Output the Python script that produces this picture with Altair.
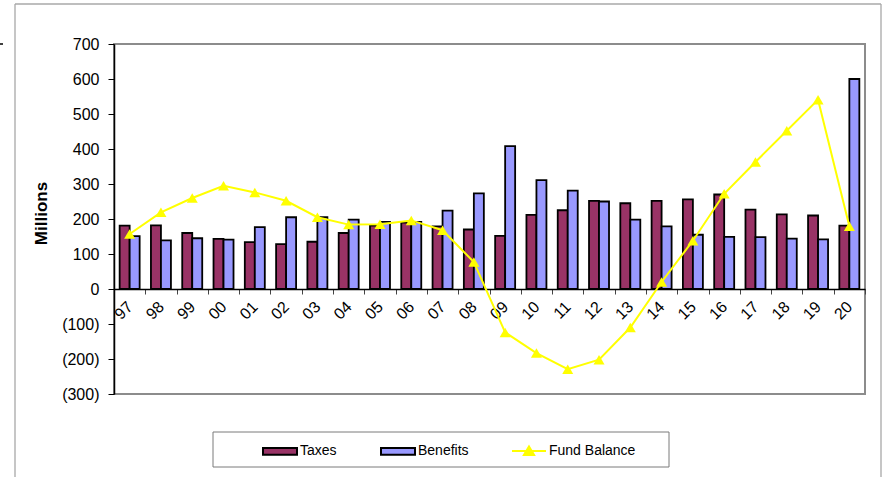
import altair as alt
import pandas as pd

years = ["97", "98", "99", "00", "01", "02", "03", "04", "05", "06", "07", "08",
         "09", "10", "11", "12", "13", "14", "15", "16", "17", "18", "19", "20"]
taxes = [181, 182, 160, 143, 134, 128, 135, 160, 181, 190, 179, 170,
         152, 212, 225, 252, 245, 252, 256, 270, 227, 213, 210, 181]
benefits = [151, 139, 145, 141, 177, 205, 205, 198, 192, 192, 224, 273,
            408, 311, 281, 250, 198, 179, 155, 149, 148, 144, 142, 600]
fund_balance = [157, 219, 260, 295, 276, 252, 205, 184, 185, 196, 168, 77,
                -124, -183, -229, -202, -110, 20, 138, 272, 363, 452, 541, 179]
y_ticks = [-300, -200, -100, 0, 100, 200, 300, 400, 500, 600, 700]

bar_rows = []
for i, yr in enumerate(years):
    bar_rows.append({"year": yr, "series": "Taxes", "value": taxes[i]})
    bar_rows.append({"year": yr, "series": "Benefits", "value": benefits[i]})
bars_df = pd.DataFrame(bar_rows)
line_df = pd.DataFrame({"year": years, "line": ["Fund Balance"] * len(years), "value": fund_balance})
deco_df = pd.DataFrame({"a": [0]})

FONT = "Liberation Sans"
W, H = 751, 350

x_axis = alt.Axis(title=None, labelAngle=-45, labelAlign="right", labelBaseline="middle",
                  offset=-105, tickBand="extent", tickSize=5, labelPadding=10,
                  labelOverlap=False,
                  domainColor="black", domainWidth=1.5, tickColor="#444",
                  labelFont=FONT, labelFontSize=16, labelColor="black")
x_enc = alt.X("year:N", sort=years, scale=alt.Scale(paddingInner=0, paddingOuter=0), axis=x_axis)

y_scale = alt.Scale(domain=[-300, 700], nice=False, zero=False)
nb = "\u00a0"
y_axis = alt.Axis(values=y_ticks, tickCount=11, grid=False, tickSize=6, labelPadding=9, labelOverlap=False,
                  labelExpr="datum.value < 0 ? '(' + format(-datum.value, 'd') + ')' : format(datum.value, 'd') + '" + nb + "'",
                  domainColor="black", domainWidth=1.5, tickColor="black",
                  labelFont=FONT, labelFontSize=16, labelColor="black",
                  title="Millions", titleFont=FONT, titleFontSize=17, titleFontWeight="bold",
                  titleColor="black", titleAngle=-90, titleX=-73, titleY=169,
                  titleAlign="center", titleBaseline="middle")
y_enc = alt.Y("value:Q", scale=y_scale, axis=y_axis)

bars = alt.Chart(bars_df).mark_bar(stroke="black", strokeWidth=1.8, opacity=1).encode(
    x=x_enc,
    xOffset=alt.XOffset("series:N", sort=["Taxes", "Benefits"],
                        scale=alt.Scale(paddingInner=0, paddingOuter=0.565)),
    y=y_enc,
    fill=alt.Fill("series:N", sort=["Taxes", "Benefits"],
                  scale=alt.Scale(domain=["Taxes", "Benefits"], range=["#993366", "#9999FF"]),
                  legend=alt.Legend(orient="none", legendX=148, legendY=389, direction="horizontal",
                                    columns=2, title=None, symbolType="M-1,-0.2H1V0.2H-1Z",
                                    symbolSize=1156, symbolStrokeColor="black", symbolStrokeWidth=2,
                                    symbolOpacity=1, labelFont=FONT, labelFontSize=14,
                                    labelColor="black", labelOffset=2, columnPadding=40, padding=0)),
)

line = alt.Chart(line_df).mark_line(strokeWidth=2).encode(
    x=x_enc,
    y=y_enc,
    stroke=alt.Stroke("line:N", scale=alt.Scale(domain=["Fund Balance"], range=["#FFFF00"]),
                      legend=alt.Legend(orient="none", legendX=397, legendY=389, direction="horizontal",
                                        title=None, symbolType="M-1,0H1M0,-0.27L0.3,0.24H-0.3Z",
                                        symbolSize=1156, symbolStrokeWidth=2, symbolFillColor="#FFFF00",
                                        labelFont=FONT, labelFontSize=14, labelColor="black",
                                        labelOffset=2, padding=0)),
)

points = alt.Chart(line_df).mark_point(shape="triangle-up", filled=True, fill="#FFFF00",
                                       size=121, opacity=1, strokeWidth=0).encode(
    x=x_enc,
    y=y_enc,
)

frame_color = "#a8a8a8"
outer_top = alt.Chart(deco_df).mark_rule(color=frame_color, strokeWidth=1.3).encode(
    x=alt.value(-99), x2=alt.value(767), y=alt.value(-40))
outer_left = alt.Chart(deco_df).mark_rule(color=frame_color, strokeWidth=1.3).encode(
    x=alt.value(-99), y=alt.value(-40), y2=alt.value(445))
outer_right = alt.Chart(deco_df).mark_rule(color=frame_color, strokeWidth=1.3).encode(
    x=alt.value(767), y=alt.value(-40), y2=alt.value(445))
dash = alt.Chart(deco_df).mark_rule(color="black", strokeWidth=1.5).encode(
    x=alt.value(-114), x2=alt.value(-111), y=alt.value(0))
legend_box = alt.Chart(deco_df).mark_rect(fill="white", stroke="#7a7a7a", strokeWidth=1).encode(
    x=alt.value(99), x2=alt.value(555), y=alt.value(388), y2=alt.value(423))

chart = alt.layer(outer_top, outer_left, outer_right, dash, legend_box, bars, line, points).resolve_scale(
    fill="independent", stroke="independent"
).properties(
    width=W, height=H,
    autosize=alt.AutoSizeParams(type="none"),
    padding={"left": 114, "top": 44, "right": 21, "bottom": 83},
    background="white",
).configure_view(stroke="#8c8c8c", strokeWidth=2)

chart.save("out.html", embed_options={"renderer": "svg", "actions": False})
